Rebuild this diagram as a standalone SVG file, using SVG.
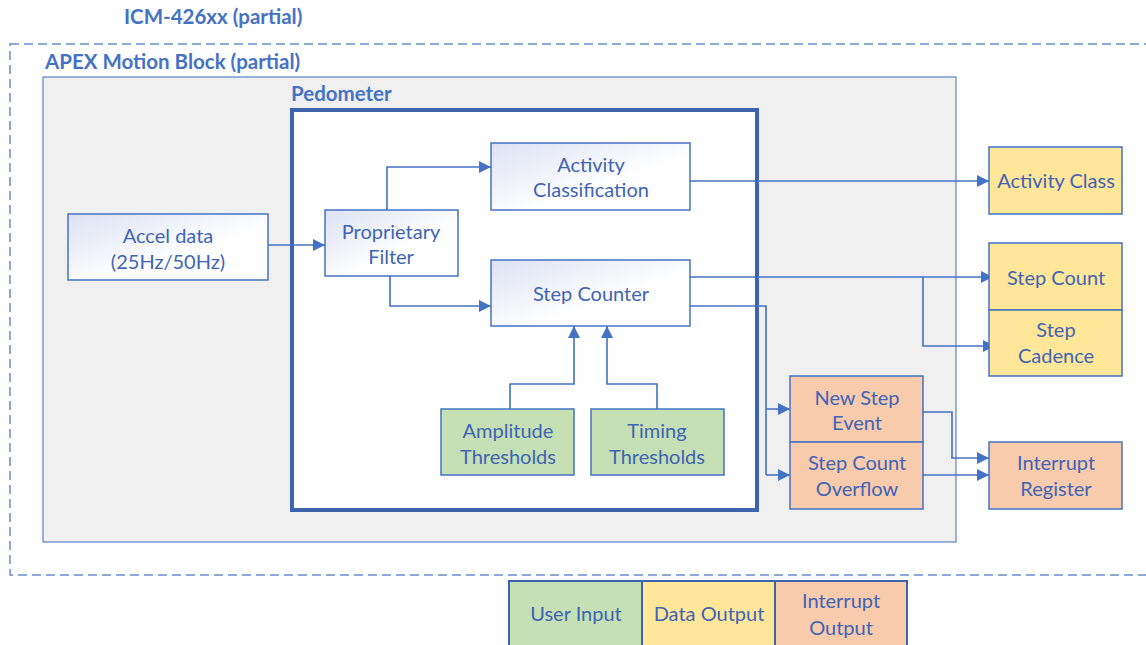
<svg xmlns="http://www.w3.org/2000/svg" width="1146" height="645" viewBox="0 0 1146 645">
<defs>
<linearGradient id="g" x1="0" y1="0" x2="1" y2="1">
<stop offset="0" stop-color="#DCE2F3"/>
<stop offset="0.6" stop-color="#FFFFFF"/>
</linearGradient>
<marker id="b" viewBox="0 0 10 10" refX="10" refY="5" markerWidth="12" markerHeight="12" orient="auto" markerUnits="userSpaceOnUse">
<path d="M0,0 L10,5 L0,10 z" fill="#4472C4"/>
</marker>
</defs>
<style>
text{font-family:Lato,"Open Sans","Liberation Sans",sans-serif;fill:#3F64B5;font-size:20px;text-anchor:middle}
.t{font-weight:bold;text-anchor:start;font-size:20.5px;fill:#4472C4}
.n{stroke:#4472C4;stroke-width:1.5}
.w{fill:url(#g)}
.gr{fill:#C5E0B4}
.ye{fill:#FFE699}
.pe{fill:#F8CBAD}
.c{fill:none;stroke:#4472C4;stroke-width:1.6;marker-end:url(#b)}
.c0{fill:none;stroke:#4472C4;stroke-width:1.6}
</style>
<rect width="1146" height="645" fill="#FFFFFF"/>
<g id="icm">
<rect x="10" y="44" width="1150" height="531" fill="none" stroke="#6A8CCB" stroke-width="1.5" stroke-dasharray="9,5"/>
<text class="t" x="124" y="24">ICM-426xx (partial)</text>
</g>
<g id="apex">
<rect x="43" y="77" width="913" height="465" fill="#F0F0F0" stroke="#5B80C8" stroke-width="1.2"/>
<text class="t" x="45" y="69">APEX Motion Block (partial)</text>
</g>
<g id="pedometer">
<rect x="292" y="110" width="465" height="400" fill="#FFFFFF" stroke="#3F64AE" stroke-width="4"/>
<text class="t" x="291" y="101">Pedometer</text>
</g>
<g id="connectors">
<path class="c" d="M268,245 H325"/>
<path class="c" d="M387,210 V167 H491"/>
<path class="c" d="M390,276 V306 H491"/>
<path class="c" d="M690,181 H989"/>
<path class="c" d="M687,277 H993"/>
<path class="c" d="M923,277 V346 H995"/>
<path class="c0" d="M690,306 H766 V475"/>
<path class="c" d="M766,409 H790"/>
<path class="c" d="M766,475 H790"/>
<path class="c" d="M510,409 V384 H574 V326"/>
<path class="c" d="M657,409 V384 H607 V326"/>
<path class="c" d="M923,412 H952 V458 H989"/>
<path class="c" d="M923,475 H989"/>
</g>
<g id="accel">
<rect class="n w" x="68" y="214" width="200" height="66"/>
<text x="168" y="243">Accel data</text>
<text x="168" y="269">(25Hz/50Hz)</text>
</g>
<g id="filter">
<rect class="n w" x="325" y="210" width="133" height="66"/>
<text x="391" y="239">Proprietary</text>
<text x="391" y="264">Filter</text>
</g>
<g id="activity">
<rect class="n w" x="491" y="143" width="199" height="67"/>
<text x="591" y="172">Activity</text>
<text x="591" y="197">Classification</text>
</g>
<g id="stepcounter">
<rect class="n w" x="491" y="260" width="199" height="66"/>
<text x="591" y="301">Step Counter</text>
</g>
<g id="amplitude">
<rect class="n gr" x="441" y="409" width="133" height="66"/>
<text x="508" y="438">Amplitude</text>
<text x="508" y="464">Thresholds</text>
</g>
<g id="timing">
<rect class="n gr" x="591" y="409" width="133" height="66"/>
<text x="657" y="438">Timing</text>
<text x="657" y="464">Thresholds</text>
</g>
<g id="activityclass">
<rect class="n ye" x="989" y="147" width="133" height="67"/>
<text x="1056" y="188">Activity Class</text>
</g>
<g id="stepcount">
<rect class="n ye" x="989" y="243" width="133" height="67"/>
<text x="1056" y="285">Step Count</text>
</g>
<g id="stepcadence">
<rect class="n ye" x="989" y="310" width="133" height="66"/>
<text x="1056" y="337">Step</text>
<text x="1056" y="363">Cadence</text>
</g>
<g id="newstep">
<rect class="n pe" x="790" y="376" width="133" height="66"/>
<text x="857" y="405">New Step</text>
<text x="857" y="430">Event</text>
</g>
<g id="overflow">
<rect class="n pe" x="790" y="442" width="133" height="67"/>
<text x="857" y="470">Step Count</text>
<text x="857" y="496">Overflow</text>
</g>
<g id="interrupt">
<rect class="n pe" x="989" y="442" width="133" height="67"/>
<text x="1056" y="470">Interrupt</text>
<text x="1056" y="496">Register</text>
</g>
<g id="legend">
<rect class="gr" x="509" y="581" width="133" height="70" stroke="#3F64AE" stroke-width="2"/>
<rect class="ye" x="642" y="581" width="133" height="70" stroke="#3F64AE" stroke-width="2"/>
<rect class="pe" x="775" y="581" width="132" height="70" stroke="#3F64AE" stroke-width="2"/>
<text x="576" y="621">User Input</text>
<text x="709" y="621">Data Output</text>
<text x="841" y="608">Interrupt</text>
<text x="841" y="635">Output</text>
</g>
</svg>
